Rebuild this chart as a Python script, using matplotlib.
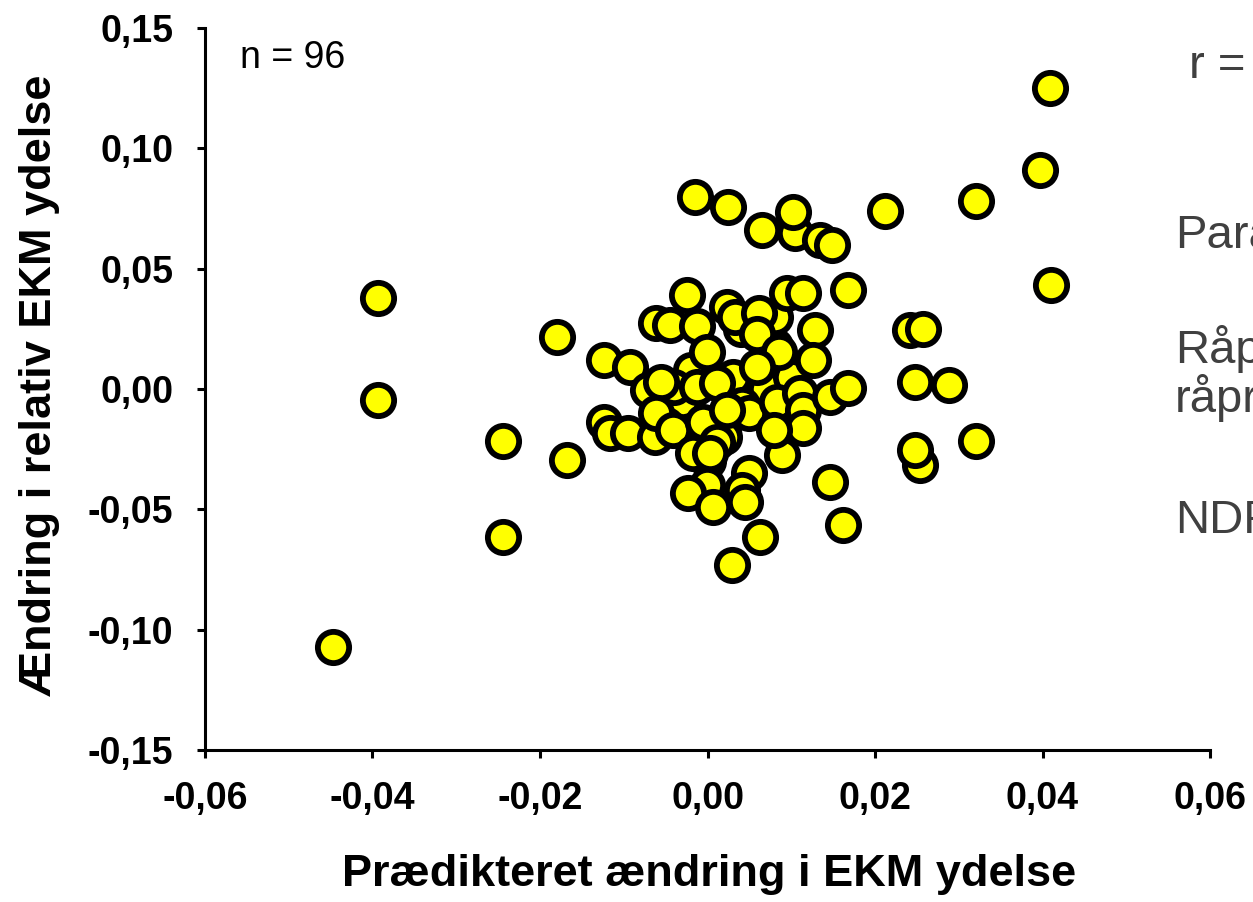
import matplotlib.pyplot as plt
from matplotlib.ticker import FuncFormatter

plt.rcParams['font.family'] = ['Liberation Sans', 'DejaVu Sans']

# points hidden in the middle of the cluster (drawn first)
hidden_x = [0.0040, 0.0080, 0.0020, -0.0030, 0.0060, -0.0050, 0.0090, 0.0000,
            0.0030, -0.0020, 0.0070, 0.0100, 0.0040, -0.0040, 0.0020, 0.0080, 0.0110]
hidden_y = [0.0010, 0.0180, -0.0150, -0.0050, -0.0060, -0.0150, -0.0120, -0.0300,
            0.0050, 0.0080, 0.0000, 0.0050, 0.0250, 0.0010, -0.0200, 0.0300, -0.0100]

pred_x = [0.0409, 0.0397, 0.0320, 0.0212, 0.0410, -0.0394, -0.0394, -0.0447,
          -0.0244, -0.0244, -0.0168, -0.0180, -0.0124, -0.0124, -0.0116, -0.0095,
          -0.0093, -0.0071, -0.0055, -0.0063, -0.0061, -0.0041, -0.0061, -0.0045,
          -0.0025, -0.0013, -0.0001, 0.0023, 0.0033, 0.0061, 0.0059, 0.0085,
          0.0059, 0.0095, 0.0114, 0.0168, 0.0128, 0.0126, -0.0013, 0.0011,
          0.0041, 0.0050, 0.0083, 0.0110, 0.0114, 0.0114, 0.0146, 0.0168,
          -0.0005, 0.0011, -0.0017, 0.0003, 0.0023, 0.0089, 0.0079, 0.0049,
          0.0041, 0.0045, -0.0001, -0.0023, 0.0007, 0.0146, 0.0162, 0.0063,
          0.0029, -0.0015, 0.0024, 0.0065, 0.0105, 0.0102, 0.0134, 0.0149,
          0.0242, 0.0257, 0.0248, 0.0288, 0.0254, 0.0248, 0.0320]
obs_y = [0.125, 0.091, 0.078, 0.074, 0.043, 0.038, -0.0046, -0.107,
         -0.0216, -0.0615, -0.0295, 0.0216, 0.012, -0.0136, -0.0184, -0.0184,
         0.0093, -0.0004, 0.003, -0.0198, -0.0101, -0.017, 0.0273, 0.0266,
         0.039, 0.026, 0.0155, 0.034, 0.030, 0.0314, 0.023, 0.0155,
         0.0093, 0.040, 0.040, 0.041, 0.0245, 0.012, 0.001, 0.0024,
         -0.0066, -0.010, -0.0053, -0.0018, -0.0087, -0.0163, -0.0032, 0.0003,
         -0.0136, -0.0219, -0.0267, -0.0267, -0.0087, -0.0274, -0.017, -0.035,
         -0.042, -0.0468, -0.040, -0.0433, -0.0489, -0.0385, -0.0565, -0.0613,
         -0.0731, 0.0797, 0.0756, 0.066, 0.065, 0.0735, 0.062, 0.060,
         0.0245, 0.025, 0.003, 0.0017, -0.0316, -0.0253, -0.0216]

x_all = hidden_x + pred_x
y_all = hidden_y + obs_y

fig = plt.figure(figsize=(12.53, 9.02), dpi=100)
ax = fig.add_axes([0.1636, 0.1685, 0.8021, 0.8005])
ax.plot(x_all, y_all, 'o', ms=22.5, mfc='#ffff00', mec='black', mew=4.2, clip_on=False)

ax.set_xlim(-0.06, 0.06)
ax.set_ylim(-0.15, 0.15)
ax.set_xticks([-0.06, -0.04, -0.02, 0.0, 0.02, 0.04, 0.06])
ax.set_yticks([-0.15, -0.10, -0.05, 0.0, 0.05, 0.10, 0.15])
fmt = FuncFormatter(lambda v, p: f'{v:.2f}'.replace('.', ',').replace('-0,00', '0,00'))
ax.xaxis.set_major_formatter(fmt)
ax.yaxis.set_major_formatter(fmt)
for s in ['top', 'right']:
    ax.spines[s].set_visible(False)
for s in ['left', 'bottom']:
    ax.spines[s].set_linewidth(2.2)
ax.tick_params(direction='out', length=6, width=2.2, labelsize=27)
ax.tick_params(axis='y', pad=17)
ax.tick_params(axis='x', pad=16)
for lab in ax.get_xticklabels() + ax.get_yticklabels():
    lab.set_fontweight('bold')

ax.set_xlabel('Prædikteret ændring i EKM ydelse', fontsize=32.5, fontweight='bold')
ax.set_ylabel('Ændring i relativ EKM ydelse', fontsize=32.5, fontweight='bold')
ax.xaxis.set_label_coords(0.5015, -0.144)
ax.yaxis.set_label_coords(-0.1443, 0.505)

# n label, baseline about y = 68 px
ax.text(240, 902 - 68, 'n = 96', transform=None, fontsize=27, va='baseline')

# right-hand notes (cut by the figure edge, as in the original)
grey = '#404040'
notes = [('r = 0,39', 1189, 78), ('Parametre', 1175, 248), ('Råprotein', 1175, 363),
         ('råprotein', 1175, 412), ('NDF', 1175, 533)]
for txt, px, py in notes:
    fig.text(px / 1253, 1 - py / 902, txt, fontsize=34, color=grey, va='baseline')

fig.savefig('out.png', dpi=100)
